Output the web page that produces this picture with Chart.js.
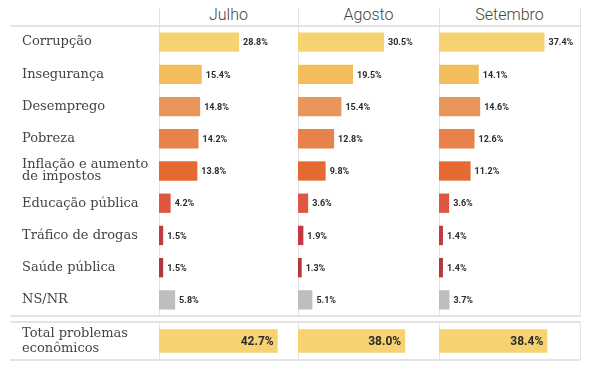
<!DOCTYPE html>
<html>
<head>
    <title>Principais problemas</title>
    <script src="https://cdn.jsdelivr.net/npm/chart.js"></script>
    <style>
        body {
            margin: 0;
            background-color: #fff;
        }
        #wrap {
            position: relative;
            width: 601px;
            height: 370px;
            overflow: hidden;
        }
        #wrap canvas {
            position: absolute;
        }
        .hline, .vline {
            position: absolute;
            background-color: #e3e3e3;
        }
        .hline { height: 2px; left: 10px; width: 570px; }
        .vline { width: 1px; }
        .month {
            position: absolute;
            top: 5px;
            font-family: Roboto, sans-serif;
            font-weight: 300;
            font-size: 16px;
            color: #444;
            text-align: center;
        }
    </style>
</head>
<body>
<div id="wrap">
    <div class="hline" style="top:25px"></div>
    <div class="hline" style="top:315px"></div>
    <div class="hline" style="top:321px"></div>
    <div class="hline" style="top:359px"></div>

    <div class="vline" style="left:159px;top:8px;height:309px"></div>
    <div class="vline" style="left:298px;top:8px;height:309px"></div>
    <div class="vline" style="left:439px;top:8px;height:309px"></div>
    <div class="vline" style="left:580px;top:8px;height:309px"></div>
    <div class="vline" style="left:159px;top:322px;height:38px"></div>
    <div class="vline" style="left:298px;top:322px;height:38px"></div>
    <div class="vline" style="left:439px;top:322px;height:38px"></div>
    <div class="vline" style="left:580px;top:322px;height:38px"></div>

    <div class="month" id="m0" style="left:159px;width:139px"></div>
    <div class="month" id="m1" style="left:298px;width:141px"></div>
    <div class="month" id="m2" style="left:439px;width:141px"></div>

    <canvas id="c0" width="288" height="290" style="left:10px;top:26px"></canvas>
    <canvas id="c1" width="141" height="290" style="left:298px;top:26px"></canvas>
    <canvas id="c2" width="141" height="290" style="left:439px;top:26px"></canvas>
    <canvas id="t0" width="288" height="38" style="left:10px;top:322px"></canvas>
    <canvas id="t1" width="141" height="38" style="left:298px;top:322px"></canvas>
    <canvas id="t2" width="141" height="38" style="left:439px;top:322px"></canvas>
</div>

<script>
    const months = ['Julho', 'Agosto', 'Setembro'];
    const categories = [
        'Corrupção',
        'Insegurança',
        'Desemprego',
        'Pobreza',
        ['Inflação e aumento', 'de impostos'],
        'Educação pública',
        'Tráfico de drogas',
        'Saúde pública',
        'NS/NR'
    ];
    const julho = [28.8, 15.4, 14.8, 14.2, 13.8, 4.2, 1.5, 1.5, 5.8];
    const agosto = [30.5, 19.5, 15.4, 12.8, 9.8, 3.6, 1.9, 1.3, 5.1];
    const setembro = [37.4, 14.1, 14.6, 12.6, 11.2, 3.6, 1.4, 1.4, 3.7];
    const barColors = ['#f6d271', '#f2be5c', '#e9965a', '#e8824a', '#e46a32',
                       '#df5742', '#c23a3e', '#b4383a', '#bebebe'];

    const totalLabel = [['Total problemas', 'econômicos']];
    const totals = [42.7, 38.0, 38.4];
    const totalColor = '#f6d271';

    // rótulos de valor ao lado (ou dentro) das barras
    const valueLabels = {
        id: 'valueLabels',
        afterDatasetsDraw(chart, args, opts) {
            const ctx = chart.ctx;
            const meta = chart.getDatasetMeta(0);
            const data = chart.data.datasets[0].data;
            ctx.save();
            ctx.font = opts.font;
            ctx.fillStyle = opts.color;
            ctx.textBaseline = 'middle';
            meta.data.forEach(function(bar, i) {
                const txt = data[i].toFixed(1) + '%';
                if (opts.inside) {
                    ctx.textAlign = 'right';
                    ctx.fillText(txt, bar.x - 4, bar.y + 1);
                } else {
                    ctx.textAlign = 'left';
                    ctx.fillText(txt, bar.x + 4, bar.y + 1);
                }
            });
            ctx.restore();
        }
    };

    function makeChart(id, labels, values, colors, showLabels, inside, barPct, lineH) {
        return new Chart(document.getElementById(id), {
            type: 'bar',
            data: {
                labels: labels,
                datasets: [{
                    data: values,
                    backgroundColor: colors,
                    borderWidth: 0,
                    categoryPercentage: 1,
                    barPercentage: barPct
                }]
            },
            options: {
                indexAxis: 'y',
                responsive: false,
                animation: false,
                layout: { padding: { left: showLabels ? 12 : 0, right: 0, top: 0, bottom: 0 } },
                scales: {
                    x: { display: false, min: 0, max: 50 },
                    y: {
                        display: showLabels,
                        grid: { display: false, drawTicks: false },
                        border: { display: false },
                        afterFit: function(axis) {
                            if (showLabels) axis.width = 137;
                            axis.paddingTop = 0;
                            axis.paddingBottom = 0;
                        },
                        ticks: {
                            crossAlign: 'far',
                            padding: 0,
                            color: '#444',
                            font: { family: 'DejaVu Serif', size: 13, lineHeight: lineH }
                        }
                    }
                },
                plugins: {
                    legend: { display: false },
                    tooltip: { enabled: false },
                    valueLabels: {
                        inside: inside,
                        color: '#2b2b2b',
                        font: inside ? 'bold 12px Roboto' : 'bold 9px Roboto'
                    }
                }
            },
            plugins: [valueLabels]
        });
    }

    const series = [julho, agosto, setembro];
    months.forEach(function(m, i) {
        document.getElementById('m' + i).textContent = m;
        makeChart('c' + i, categories, series[i], barColors, i === 0, false, 0.6, 0.92);
        makeChart('t' + i, totalLabel, [totals[i]], [totalColor], i === 0, true, 0.62, 1.2);
    });
</script>
</body>
</html>
